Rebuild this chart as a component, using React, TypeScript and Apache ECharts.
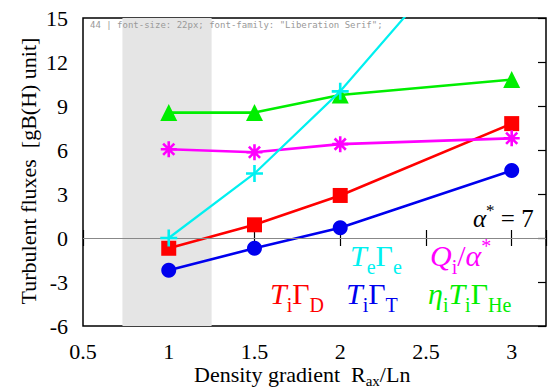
import React, { useEffect, useRef, useState } from "react";
import * as echarts from "echarts";

// ---- data ----
const xValues = [1, 1.5, 2, 3];
const teGammaE = [0, 4.4, 10.0, 23.5];
const qiOverAlpha = [6.05, 5.85, 6.4, 6.8];
const tiGammaD = [-0.7, 0.9, 2.9, 7.8];
const tiGammaT = [-2.2, -0.7, 0.7, 4.6];
const etaTiGammaHe = [8.55, 8.55, 9.75, 10.8];
const shadedBand = [0.73, 1.25];
const xTickLabels = ["0.5", "1", "1.5", "2", "2.5", "3"];
const yTickLabels = ["-6", "-3", "0", "3", "6", "9", "12", "15"];

const FONT = "Liberation Serif";

const CYAN = "#00f0f0";
const MAGENTA = "#ff00ff";
const RED = "#ff0000";
const BLUE = "#0000ee";
const GREEN = "#00ee00";

const PLUS = "path://M10,0L10,20M0,10L20,10";
const STAR = "path://M10,0L10,20M0,10L20,10M3,3L17,17M3,17L17,3";

function richFor(color: string, big: number, small: number) {
  return {
    it: { fontFamily: FONT, fontStyle: "italic", fontSize: big, lineHeight: big, fill: color },
    up: { fontFamily: FONT, fontSize: big, lineHeight: big, fill: color },
    sub: { fontFamily: FONT, fontSize: small, lineHeight: small, padding: [Math.round(big * 0.75), 0, 0, 0], fill: color },
    sup: { fontFamily: FONT, fontSize: small, lineHeight: small, padding: [0, 0, Math.round(big * 0.6), 0], fill: color },
  };
}

function label(text: string, color: string, x: number, y: number, big = 30, small = 20) {
  return {
    type: "text",
    x,
    y,
    z: 10,
    style: {
      text,
      fill: color,
      fontFamily: FONT,
      fontSize: big,
      align: "left",
      verticalAlign: "middle",
      rich: richFor(color, big, small),
    },
  };
}

function lineSeries(name: string, ys: number[], color: string, symbol: string, size: number, isPath: boolean, z: number) {
  return {
    type: "line",
    name,
    data: xValues.map((x, i) => [x, ys[i]]),
    symbol,
    symbolSize: size,
    showSymbol: true,
    clip: true,
    z,
    lineStyle: { color, width: 2.6 },
    itemStyle: { color, borderColor: color, borderWidth: isPath ? 2.6 : 0 },
  };
}

function makeTick() {
  return { show: true, inside: true, length: 8, lineStyle: { color: "#000", width: 1.2 } };
}

export default function App() {
  const ref = useRef<HTMLDivElement>(null);
  const [dbg, setDbg] = useState("");
  useEffect(() => {
    if (!ref.current) return;
    const chart = echarts.init(ref.current, undefined, { renderer: "svg" });
    const axisLabelStyle = { fontFamily: FONT, fontSize: 22, color: "#000" };
    chart.setOption({
      animation: false,
      backgroundColor: "#fff",
      textStyle: { fontFamily: FONT },
      grid: { left: 83, top: 18, width: 470, height: 308, show: true, borderColor: "#000", borderWidth: 1.5, backgroundColor: "transparent" },
      xAxis: [
        {
          type: "value", min: 0.5, max: 3.2, interval: 0.5, position: "bottom",
          axisLine: { show: false }, axisTick: makeTick(), splitLine: { show: false },
          axisLabel: { ...axisLabelStyle, margin: 14, formatter: (v: number) => (xTickLabels.includes(String(v)) ? String(v) : "") },
        },
        {
          type: "value", min: 0.5, max: 3.2, interval: 0.5, position: "top",
          axisLine: { show: false }, axisTick: makeTick(), splitLine: { show: false }, axisLabel: { show: false },
        },
      ],
      yAxis: [
        {
          type: "value", min: -6, max: 15, interval: 3, position: "left",
          axisLine: { show: false }, axisTick: { show: false }, splitLine: { show: false },
          axisLabel: { ...axisLabelStyle, margin: 15, formatter: (v: number) => (yTickLabels.includes(String(v)) ? String(v) : "") },
        },
        {
          type: "value", min: -6, max: 15, interval: 3, position: "right",
          axisLine: { show: false }, axisTick: makeTick(), splitLine: { show: false }, axisLabel: { show: false },
        },
      ],
      series: [
        {
          type: "line",
          name: "band",
          data: xValues.map((x, i) => [x, tiGammaD[i]]),
          z: 1,
          silent: true,
          showSymbol: false,
          symbol: "none",
          lineStyle: { opacity: 0, width: 0 },
          markArea: { silent: true, itemStyle: { color: "#e5e5e5" }, data: [[{ xAxis: shadedBand[0] }, { xAxis: shadedBand[1] }]] },
          markLine: { silent: true, symbol: ["none", "none"], label: { show: false }, lineStyle: { color: "#888", width: 1.2, type: "solid" }, data: [{ yAxis: 0 }] },
        },
        lineSeries("TiΓD", tiGammaD, RED, "rect", 15, false, 3),
        lineSeries("TiΓT", tiGammaT, BLUE, "circle", 15, false, 3),
        lineSeries("ηiTiΓHe", etaTiGammaHe, GREEN, "triangle", 17, false, 3),
        lineSeries("Qi/α*", qiOverAlpha, MAGENTA, STAR, 16, true, 4),
        { ...lineSeries("TeΓe", teGammaE, CYAN, PLUS, 17, true, 5), lineStyle: { color: CYAN, width: 2.2 } },
      ],
      graphic: [
        {
          type: "text", x: 28, y: 171, rotation: Math.PI / 2,
          style: { text: "Turbulent fluxes  [gB(H) unit]", fill: "#000", fontFamily: FONT, fontSize: 22, align: "center", verticalAlign: "middle" },
        },
        {
          type: "text", x: 194, y: 374,
          style: {
            text: "{up|Density gradient  R}{sub|ax}{up|/Ln}", fill: "#000", fontFamily: FONT, fontSize: 22, align: "left", verticalAlign: "middle",
            rich: {
              up: { fontFamily: FONT, fontSize: 22, lineHeight: 22, fill: "#000" },
              sub: { fontFamily: FONT, fontSize: 15, lineHeight: 15, padding: [14, 0, 0, 0], fill: "#000" },
            },
          },
        },
        label("{it|α}{sup|*}{up| = 7}", "#000", 473, 218, 25, 17),
        label("{it|T}{sub|e}{up|Γ}{sub|e}", CYAN, 350, 255),
        label("{it|Q}{sub|i}{up|/}{it|α}{sup|*}", MAGENTA, 430, 255),
        label("{it|T}{sub|i}{up|Γ}{sub|D}", RED, 270, 293),
        label("{it|T}{sub|i}{up|Γ}{sub|T}", BLUE, 346, 293),
        label("{it|η}{sub|i}{it|T}{sub|i}{up|Γ}{sub|He}", GREEN, 428, 293),
      ],
    });
    const t = setTimeout(() => {
      const texts = Array.from(ref.current!.querySelectorAll("text"));
      setDbg(texts.length + " | " + (texts[0] ? texts[0].getAttribute("style") : "none"));
    }, 50);
    return () => {
      clearTimeout(t);
      chart.dispose();
    };
  }, []);
  return (
    <div>
      <div ref={ref} style={{ position: "fixed", left: 0, top: 0, width: 549, height: 392, background: "#fff" }} />
      <pre style={{ position: "fixed", left: 90, top: 20, fontSize: 9, margin: 0, zIndex: 5, color: "#999" }}>{dbg}</pre>
    </div>
  );
}
